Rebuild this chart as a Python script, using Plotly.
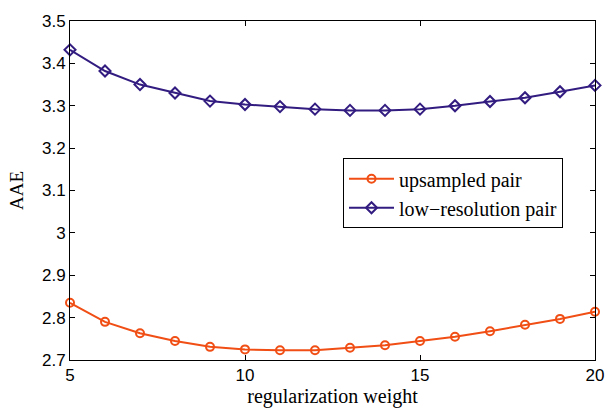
import plotly.graph_objects as go

weights = list(range(5, 21))
upsampled = [2.835, 2.790, 2.763, 2.745, 2.731, 2.725, 2.723, 2.723, 2.729, 2.735,
             2.745, 2.755, 2.768, 2.783, 2.797, 2.814]
lowres = [3.432, 3.382, 3.350, 3.330, 3.311, 3.303, 3.298, 3.292, 3.289, 3.289,
          3.292, 3.300, 3.310, 3.319, 3.333, 3.348]
x_ticks = [5, 10, 15, 20]
y_ticks = [2.7, 2.8, 2.9, 3.0, 3.1, 3.2, 3.3, 3.4, 3.5]
y_tick_text = ["2.7", "2.8", "2.9", "3", "3.1", "3.2", "3.3", "3.4", "3.5"]

orange = "rgb(240,78,20)"
purple = "rgb(50,28,128)"
SERIF = "Liberation Serif"
SANS = "Liberation Sans"

fig = go.Figure()
fig.add_trace(go.Scatter(
    x=weights, y=upsampled, mode="lines+markers", name="upsampled pair",
    line=dict(color=orange, width=2),
    marker=dict(symbol="circle-open", size=8, color=orange, line=dict(width=2)),
    cliponaxis=False))
fig.add_trace(go.Scatter(
    x=weights, y=lowres, mode="lines+markers", name="low\u2212resolution pair",
    line=dict(color=purple, width=2),
    marker=dict(symbol="diamond-open", size=8.5, color=purple, line=dict(width=2)),
    cliponaxis=False))

axis_common = dict(
    showgrid=False, zeroline=False, showline=True, linecolor="black", linewidth=1,
    mirror="ticks", ticks="inside", ticklen=5, tickcolor="black",
    tickfont=dict(family=SANS, size=17, color="black"),
)
fig.update_xaxes(range=[5, 20], tickvals=x_ticks,
                 title=dict(text="regularization weight", standoff=4,
                            font=dict(family=SERIF, size=20, color="black")),
                 **axis_common)
fig.update_yaxes(range=[2.7, 3.5], tickvals=y_ticks, ticktext=y_tick_text,
                 title=dict(text="AAE", standoff=13,
                            font=dict(family=SERIF, size=19, color="black")),
                 **axis_common)

fig.update_layout(
    width=616, height=415,
    margin=dict(l=70, r=12, t=15, b=52),
    plot_bgcolor="white", paper_bgcolor="white",
    legend=dict(x=0.52, y=0.595, xanchor="left", yanchor="top",
                bordercolor="black", borderwidth=1, bgcolor="white",
                font=dict(family=SERIF, size=20, color="black"),
                tracegroupgap=0, itemwidth=45),
)

fig.write_html("out.html")
